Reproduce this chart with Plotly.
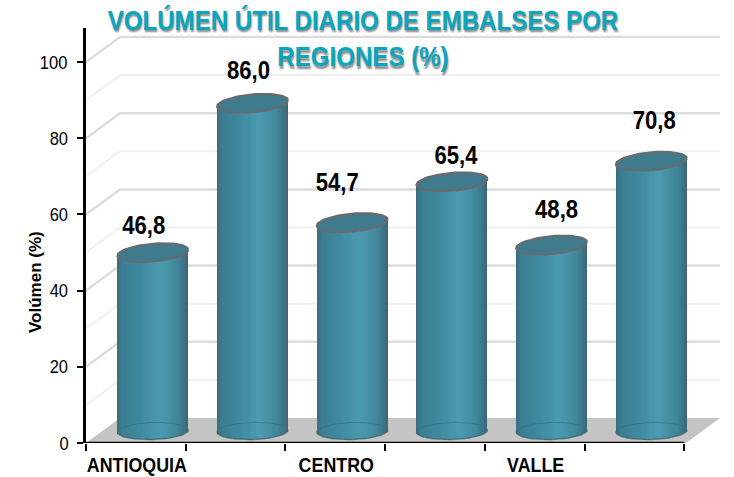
import math
import plotly.graph_objects as go

# ---- data ----
regions = ["ANTIOQUIA", "", "CENTRO", "", "VALLE", ""]
values = [46.8, 86.0, 54.7, 65.4, 48.8, 70.8]
y_ticks = [0, 20, 40, 60, 80, 100]
grid_major = [20, 40, 60, 80, 100]
grid_minor = [10, 30, 50, 70, 90]
label_dx_px = [-9, -4, -15, 4, 5, 3]
label_up_px = [37, 43, 50, 36, 46, 51]

# ---- geometry (pixels per axis unit) ----
W, H = 734, 477
L, R, T, B = 86, 14, 28, 34
PX_X = 99.7
PX_Y = 3.81
xmax = (W - L - R) / PX_X
ymax = (H - T - B) / PX_Y
DX, DY = 34 / PX_X, 25 / PX_Y         # wall depth
CX0 = 0.67                            # cylinder centre inside its category
A = 35.5 / PX_X                       # half width of the cylinder
DEPTH = 12 / PX_Y                     # cylinder sits at mid depth
STRIPS = 36

FONT = "Liberation Sans"


def mix(t):
    """Horizontal shading across a cylinder, t in [-1, 1]."""
    stops = [(-1.0, (62, 105, 120)), (-0.88, (58, 125, 145)), (-0.4, (62, 136, 158)),
             (0.2, (74, 155, 177)), (0.7, (64, 135, 155)), (0.92, (60, 112, 130)), (1.0, (72, 96, 106))]
    for (a, ca), (b, cb) in zip(stops, stops[1:]):
        if t <= b:
            f = (t - a) / (b - a)
            c = [round(ca[i] + (cb[i] - ca[i]) * f) for i in range(3)]
            return f"rgb({c[0]},{c[1]},{c[2]})"
    return "rgb(72,96,106)"


def ellipse(cx, cy_units, b_px, tilt_px, n=72):
    xs, ys = [], []
    for k in range(n + 1):
        th = 2 * math.pi * k / n
        xs.append(cx + A * math.cos(th))
        ys.append(cy_units + (b_px * math.sin(th) + tilt_px * math.cos(th)) / PX_Y)
    return xs, ys


fig = go.Figure()

# wall grid + floor, drawn below the cylinders
shapes = []
floor = (f"M 0 0 L {DX} {DY} L {xmax} {DY} L {xmax - DX} 0 Z")
shapes.append(dict(type="path", path=floor, xref="x", yref="y", layer="below",
                   fillcolor="#c4c4c4", line=dict(width=0)))
for v, col, wd in [(g, "#f0f0f0", 2) for g in grid_minor] + [(g, "#dcdcdc", 2.5) for g in grid_major]:
    shapes.append(dict(type="path", path=f"M 0 {v} L {DX} {v + DY} L {xmax} {v + DY}",
                       xref="x", yref="y", layer="below", line=dict(color=col, width=wd)))
# x axis line stops at the last category
shapes.append(dict(type="line", x0=0, x1=len(values), y0=0, y1=0, xref="x", yref="y",
                   layer="above", line=dict(color="black", width=2.5)))

# cylinder bodies: each bar is shaded with narrow vertical strips
bx, bbase, bh, bc = [], [], [], []
for i, v in enumerate(values):
    cx = i + CX0
    for s in range(STRIPS):
        t = -1 + 2 * (s + 0.5) / STRIPS
        bx.append(cx + t * A)
        low = DEPTH + (-8.5 * math.sqrt(1 - t * t) + 1 * t) / PX_Y
        top = v + DEPTH + 3 * t / PX_Y
        bbase.append(low)
        bh.append(top - low)
        bc.append(mix(t))
fig.add_trace(go.Bar(x=bx, y=bh, base=bbase, width=2 * A / STRIPS * 1.05,
                     marker=dict(color=bc, line=dict(width=0)), hoverinfo="skip", showlegend=False))

# cylinder edges, base rim, top cap
for i, v in enumerate(values):
    cx = i + CX0
    # base rim
    ex, ey = ellipse(cx, DEPTH, 8.5, 1)
    half = len(ex) // 2
    fig.add_trace(go.Scatter(x=ex[:half + 1], y=ey[:half + 1], mode="lines",
                             line=dict(color="rgba(45,115,135,0.7)", width=1),
                             hoverinfo="skip", showlegend=False))
    # lower rim darker
    fig.add_trace(go.Scatter(x=ex[half:], y=ey[half:], mode="lines",
                             line=dict(color="rgba(70,100,110,0.8)", width=1.5),
                             hoverinfo="skip", showlegend=False))
    # top cap
    ex, ey = ellipse(cx, v + DEPTH, 9, 3)
    fig.add_trace(go.Scatter(x=ex, y=ey, mode="lines", fill="toself", fillcolor="#3f7a8d",
                             line=dict(color="#6a6a6e", width=2), hoverinfo="skip", showlegend=False))

# value labels
fig.add_trace(go.Scatter(
    x=[i + CX0 + label_dx_px[i] / PX_X for i in range(len(values))],
    y=[v + label_up_px[i] / PX_Y for i, v in enumerate(values)],
    text=[f"{v:.1f}".replace(".", ",") for v in values],
    mode="text", textposition="middle center",
    textfont=dict(family=FONT, size=26, color="black", weight="bold"),
    hoverinfo="skip", showlegend=False))

fig.update_layout(
    width=W, height=H, margin=dict(l=L, r=R, t=T, b=B, autoexpand=False),
    paper_bgcolor="white", plot_bgcolor="white", showlegend=False,
    barmode="overlay", bargap=0, shapes=shapes,
    title=dict(text="VOLÚMEN ÚTIL DIARIO DE EMBALSES POR<br>REGIONES (%)",
               x=363 / W, xanchor="center", y=1 - 30 / H, yanchor="top",
               font=dict(family=FONT, size=28, color="#0aa5bf", weight="bold",
                         shadow="1px 2px 2px #8a8a8a")),
    annotations=[dict(text="Volúmen (%)", textangle=-90, xref="paper", yref="y",
                      x=-51 / (W - L - R), y=(443 - 282) / PX_Y, showarrow=False,
                      xanchor="center", yanchor="middle",
                      font=dict(family=FONT, size=17, color="black", weight="bold"))],
    xaxis=dict(range=[0, xmax], showgrid=False, zeroline=False, showline=False,
               tickmode="array", tickvals=[i + 0.51 for i, r in enumerate(regions) if r],
               ticktext=[r for r in regions if r], ticks="", ticklabelstandoff=7,
               tickfont=dict(family=FONT, size=21, color="black", weight="bold"),
               minor=dict(tickmode="array", tickvals=list(range(len(values) + 1)), ticks="outside",
                          ticklen=7, tickwidth=2, tickcolor="black")),
    yaxis=dict(range=[0, ymax], showgrid=False, zeroline=False, showline=True,
               linecolor="black", linewidth=2.5,
               tickmode="array", tickvals=y_ticks, ticks="outside", ticklen=6, tickwidth=2,
               ticklabelstandoff=4,
               tickcolor="black", tickfont=dict(family=FONT, size=19, color="black")),
)

# the reference's typeface is a horizontally condensed one: squeeze the real text to match
post = """
document.body.style.margin='0';document.body.style.overflow='hidden';
var squeeze=function(sel,s){document.querySelectorAll(sel).forEach(function(el){
  var b=el.getBBox(),c=b.x+b.width/2,t=el.getAttribute('transform')||'';
  el.setAttribute('transform',t+' translate('+c+' 0) scale('+s+' 1) translate('+(-c)+' 0)');
});};
squeeze('.gtitle',0.86);
squeeze('.textpoint text',0.85);
squeeze('.xtick text',0.85);
squeeze('.ytick text',0.87);
"""
fig.write_html("out.html", post_script=post, config={"displayModeBar": False})
